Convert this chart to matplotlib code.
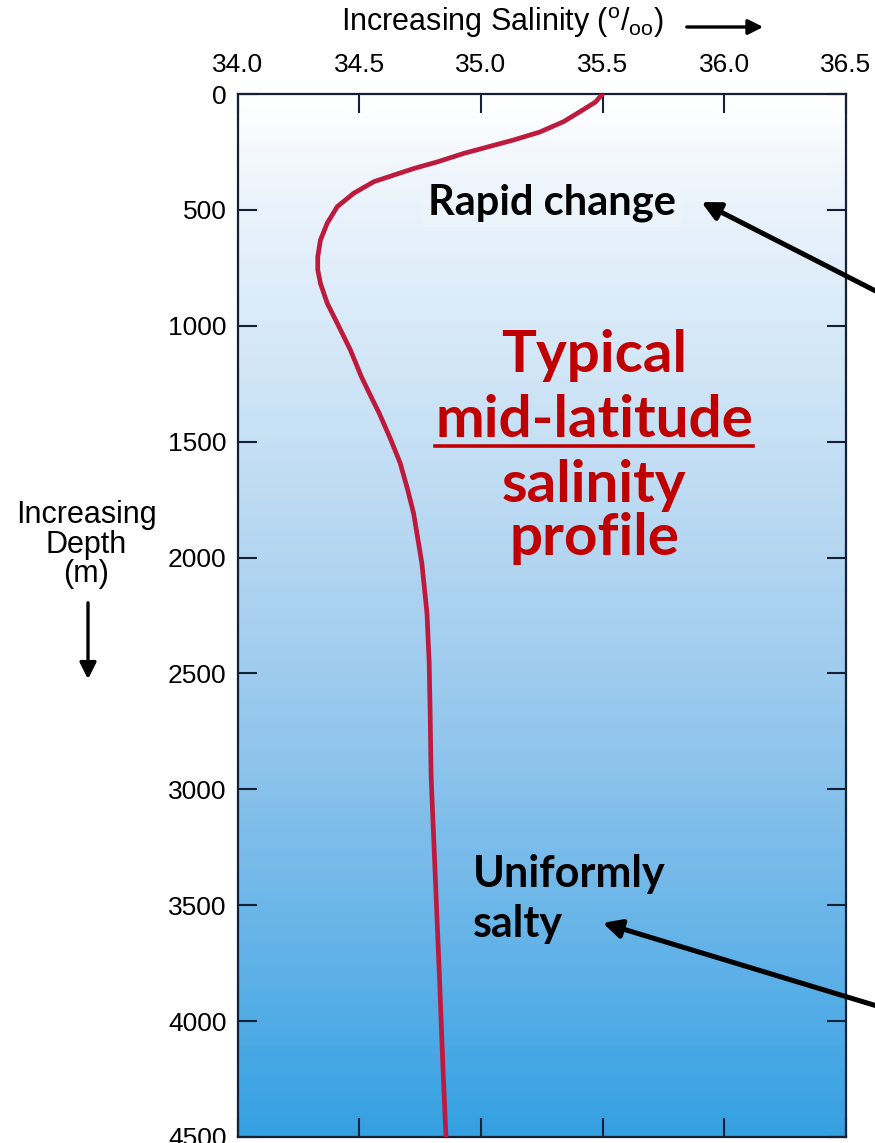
"""Typical mid-latitude salinity profile (depth vs salinity) on a shaded ocean background."""
import numpy as np
import matplotlib
matplotlib.use('Agg')
import matplotlib.pyplot as plt
from matplotlib.colors import LinearSegmentedColormap

plt.rcParams['font.family'] = ['Liberation Sans', 'DejaVu Sans']
plt.rcParams['mathtext.fontset'] = 'custom'
plt.rcParams['mathtext.rm'] = 'Liberation Sans'

# salinity profile (depth in m, salinity in o/oo)
depth = [0, 35, 69, 119, 164, 198, 256, 293, 321, 378, 428, 486, 557, 630, 702,
         759, 817, 903, 989, 1104, 1219, 1306, 1378, 1486, 1593, 1701, 1809, 2025,
         2240, 2455, 2670, 2946, 3348, 3779, 4210, 4500]
salinity = [35.50, 35.47, 35.418, 35.34, 35.242, 35.135, 34.93, 34.82, 34.725,
            34.56, 34.477, 34.409, 34.368, 34.34, 34.329, 34.329, 34.34, 34.368,
            34.409, 34.463, 34.508, 34.548, 34.582, 34.627, 34.668, 34.697, 34.723,
            34.757, 34.778, 34.787, 34.791, 34.795, 34.811, 34.828, 34.844, 34.856]

x_ticks = [34.0, 34.5, 35.0, 35.5, 36.0, 36.5]
y_ticks = [0, 500, 1000, 1500, 2000, 2500, 3000, 3500, 4000, 4500]

# background shading stops (fraction of depth range, colour)
bg_stops = [(0.0, '#ffffff'), (0.08, '#eef5fc'), (0.25, '#d3e7f7'),
            (0.45, '#b2d5f1'), (0.65, '#8cc3ec'), (0.85, '#5cb0e7'), (1.0, '#34a0e2')]

INK = '#142036'
RED_TXT = '#c00000'
CURVE = '#bd1a3d'
FONT = ['Lato', 'DejaVu Sans']

fig = plt.figure(figsize=(8.75, 11.43), dpi=100)
ax = fig.add_axes([0.2717, 0.00525, 0.695, 0.9125])

cmap = LinearSegmentedColormap.from_list('ocean_bg', bg_stops)
ax.imshow(np.linspace(0, 1, 256).reshape(-1, 1), cmap=cmap, aspect='auto',
          extent=[34.0, 36.5, 4500, 0], zorder=0, interpolation='bilinear')

ax.plot(salinity, depth, color=CURVE, lw=3.4, solid_capstyle='round',
        solid_joinstyle='round', zorder=3)

ax.set_xlim(34.0, 36.5)
ax.set_ylim(4500, 0)
ax.set_xticks(x_ticks)
ax.set_xticklabels([f'{v:.1f}' for v in x_ticks])
ax.set_yticks(y_ticks)
ax.set_yticklabels([str(v) for v in y_ticks])
ax.xaxis.tick_top()
ax.tick_params(axis='both', which='both', direction='in', length=13.5, width=1.5,
               color=INK, labelsize=19, top=True, bottom=True, left=True, right=True,
               labeltop=True, labelbottom=False, labelleft=True, labelright=False)
ax.tick_params(axis='x', pad=12)
ax.tick_params(axis='y', pad=8)
for s in ax.spines.values():
    s.set_color(INK)
    s.set_linewidth(1.6)

# axis titles
fig.text(0.574, 1 - 31 / 1143, r'Increasing Salinity ($\mathregular{^o/_{oo}}$)',
         ha='center', va='baseline', fontsize=22)
fig.add_artist(matplotlib.patches.FancyArrowPatch(
    (684 / 875, 1 - 27 / 1143), (766 / 875, 1 - 27 / 1143), transform=fig.transFigure,
    arrowstyle='-|>,head_length=9,head_width=4.5', color='black', lw=2.4,
    mutation_scale=1))
for label, base in zip(['Increasing', 'Depth', '(m)'], [523, 553, 582]):
    fig.text(86 / 875, 1 - base / 1143, label, ha='center', va='baseline', fontsize=22)
fig.add_artist(matplotlib.patches.FancyArrowPatch(
    (88 / 875, 1 - 600 / 1143), (88 / 875, 1 - 682 / 1143), transform=fig.transFigure,
    arrowstyle='-|>,head_length=10,head_width=5', color='black', lw=2.4,
    mutation_scale=1))

# annotations
ax.text(35.29, 522, 'Rapid change', ha='center', va='baseline', fontsize=30,
        fontweight='bold', family=FONT, color='black', zorder=4,
        bbox=dict(boxstyle='square,pad=0.12', fc='#eef5fc', ec='none', alpha=0.8))
ax.annotate('', xy=(35.906, 466), xytext=(36.66, 870), annotation_clip=False,
            arrowprops=dict(arrowstyle='-|>,head_length=1.1,head_width=0.55',
                            color='black', lw=3.6, shrinkA=0, shrinkB=0), zorder=5)

ax.text(34.967, 3421, 'Uniformly', ha='left', va='baseline', fontsize=31,
        fontweight='bold', family=FONT, color='black', zorder=4)
ax.text(34.967, 3637, 'salty', ha='left', va='baseline', fontsize=31,
        fontweight='bold', family=FONT, color='black', zorder=4)
ax.annotate('', xy=(35.50, 3576), xytext=(36.66, 3945), annotation_clip=False,
            arrowprops=dict(arrowstyle='-|>,head_length=1.1,head_width=0.55',
                            color='black', lw=3.6, shrinkA=0, shrinkB=0), zorder=5)

title_lines = ['Typical', 'mid-latitude', 'salinity', 'profile']
title_depths = [1199, 1480, 1760, 1989]
title_texts = []
for line, d in zip(title_lines, title_depths):
    t = ax.text(35.465, d, line, ha='center', va='baseline', fontsize=42,
                fontweight='bold', family=FONT, color=RED_TXT, zorder=4)
    title_texts.append(t)

# underline "mid-latitude" using its rendered extent
fig.canvas.draw()
under = title_texts[1]
bb = under.get_window_extent()
base_y = ax.transData.transform((35.465, title_depths[1]))[1]
line_y = base_y - 9
inv = fig.transFigure.inverted()
(x0, y0), (x1, _) = inv.transform([(bb.x0, line_y), (bb.x1, line_y)])
fig.add_artist(matplotlib.lines.Line2D([x0, x1], [y0, y0], color=RED_TXT, lw=2.6,
                                       transform=fig.transFigure))

fig.savefig('out.png', dpi=100)
